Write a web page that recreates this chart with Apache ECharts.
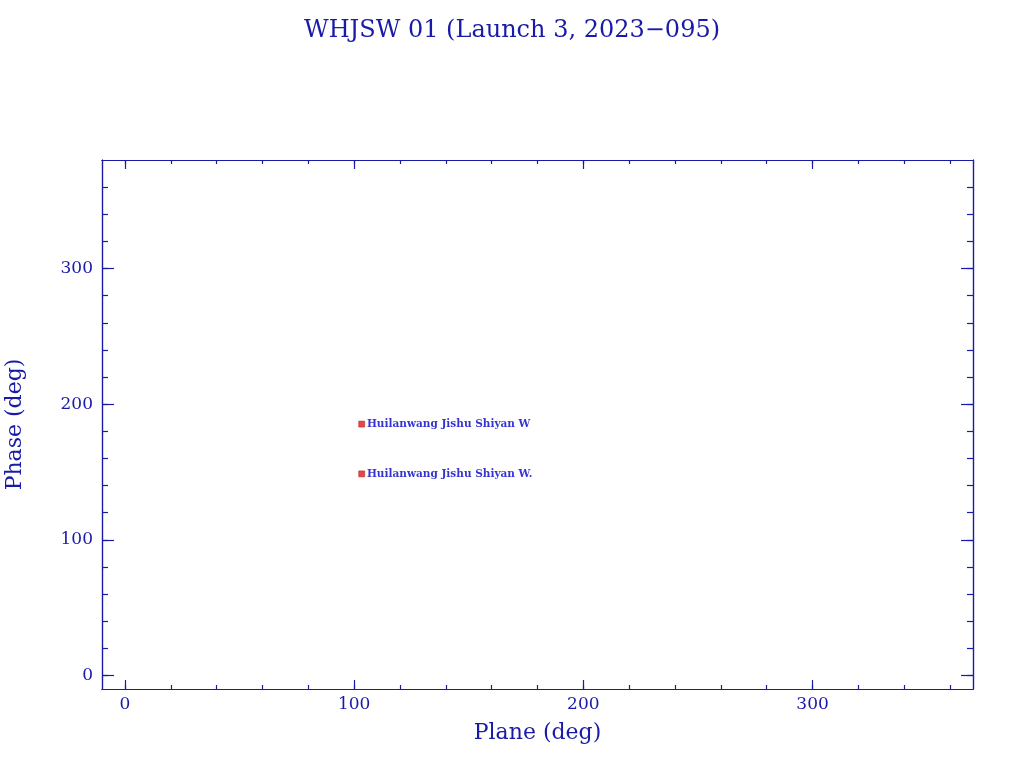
<!DOCTYPE html>
<html><head><meta charset="utf-8">
<script src="https://cdn.jsdelivr.net/npm/echarts@6/dist/echarts.min.js"></script>
<style>html,body{margin:0;padding:0;background:#fff}#c{width:1024px;height:768px}</style>
</head><body><div id="c"></div>
<script>
const titleText = 'WHJSW 01 (Launch 3, 2023\u2212095)';
const objectNames = ['Huilanwang Jishu Shiyan W', 'Huilanwang Jishu Shiyan W.'];
const planeValues = [103.3, 103.3];
const phaseValues = [185.3, 148.6];
const xMajor = [0, 100, 200, 300];
const xMinor = [0,20,40,60,80,100,120,140,160,180,200,220,240,260,280,300,320,340,360];
const yMajor = [0, 100, 200, 300];
const yMinor = [0,20,40,60,80,100,120,140,160,180,200,220,240,260,280,300,320,340,360];

const C = '#1a1aa8';
const F = '"DejaVu Serif", "Liberation Serif", serif';
const chart = echarts.init(document.getElementById('c'));
function ax(pos, vals, len, labels, extra) {
  const horiz = pos === 'bottom' || pos === 'top';
  return Object.assign({
    type: 'value', position: pos, min: -10, max: horiz ? 370 : 380,
    axisLine: {show: true, onZero: false, lineStyle: {color: C, width: 1.2}},
    axisTick: {show: true, inside: true, length: len, customValues: vals, lineStyle: {color: C, width: 1.2}},
    axisLabel: labels ? {show: true, customValues: vals, color: C, fontFamily: F, fontSize: 17, margin: horiz ? 7 : 9} : {show: false},
    splitLine: {show: false}
  }, extra || {});
}
chart.setOption({
  animation: false,
  title: {text: titleText, left: 'center', top: 14, textStyle: {color: C, fontFamily: F, fontSize: 24, fontWeight: 'normal'}},
  grid: {left: 102, right: 51, top: 160, bottom: 79, containLabel: false, outerBoundsMode: 'none'},
  xAxis: [
    ax('bottom', xMajor, 9, true, {name: 'Plane (deg)', nameLocation: 'middle', nameGap: 33, nameTextStyle: {color: C, fontFamily: F, fontSize: 22}}),
    ax('bottom', xMinor, 4, false),
    ax('top', xMajor, 9, false),
    ax('top', xMinor, 4, false)
  ],
  yAxis: [
    ax('left', yMajor, 12, true, {name: 'Phase (deg)', nameLocation: 'middle', nameGap: 76, nameTextStyle: {color: C, fontFamily: F, fontSize: 22}}),
    ax('left', yMinor, 6, false),
    ax('right', yMajor, 12, false),
    ax('right', yMinor, 6, false)
  ],
  series: [{
    type: 'scatter', xAxisIndex: 0, yAxisIndex: 0,
    symbol: 'rect', symbolSize: 6,
    itemStyle: {color: '#e01818', borderColor: '#a00000', borderWidth: 0.5},
    data: planeValues.map((v, i) => ({value: [v, phaseValues[i]], name: objectNames[i]})),
    label: {show: true, position: 'right', distance: 2, formatter: p => p.name, color: '#0000c8', fontFamily: F, fontSize: 10.5, fontWeight: 'bold'}
  }]
});
</script></body></html>
